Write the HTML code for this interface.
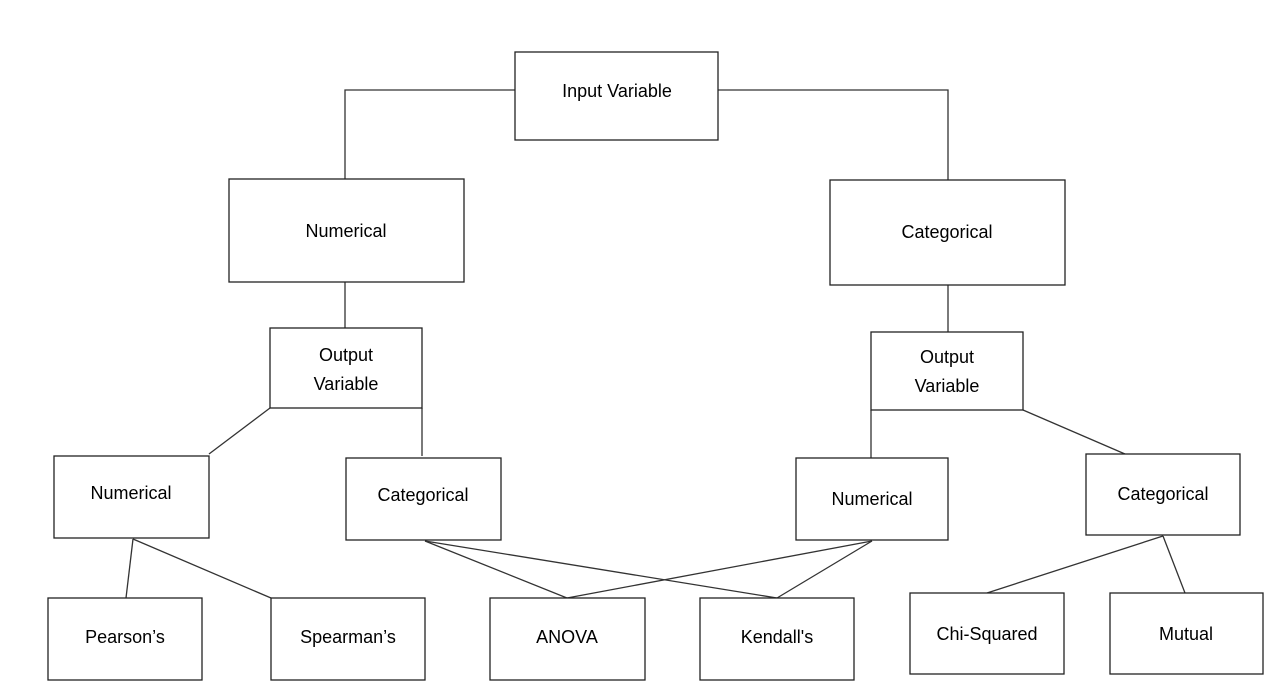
<!DOCTYPE html>
<html><head><meta charset="utf-8"><style>
body{margin:0;background:#fff;width:1272px;height:684px;overflow:hidden}
</style></head><body>
<svg width="1272" height="684" xmlns="http://www.w3.org/2000/svg" font-family="Liberation Sans, sans-serif" font-size="18" fill="#000">
<g stroke="#333" stroke-width="1.3" fill="none">
<polyline points="515,90 345,90 345,179"/>
<polyline points="718,90 948,90 948,180"/>
<line x1="345" y1="282" x2="345" y2="329"/>
<line x1="948" y1="285" x2="948" y2="332"/>
<line x1="270" y1="408" x2="209" y2="454"/>
<line x1="422" y1="408" x2="422" y2="456"/>
<line x1="871" y1="410" x2="871" y2="458"/>
<line x1="1023" y1="410" x2="1125" y2="454"/>
<line x1="133" y1="539" x2="126" y2="598"/>
<line x1="133" y1="539" x2="271" y2="598"/>
<line x1="425" y1="541" x2="567" y2="598"/>
<line x1="425" y1="541" x2="777" y2="598"/>
<line x1="872" y1="541" x2="567" y2="598"/>
<line x1="872" y1="541" x2="777" y2="598"/>
<line x1="1163" y1="536" x2="987" y2="593"/>
<line x1="1163" y1="536" x2="1185" y2="593"/>
</g>
<g stroke="#222" stroke-width="1.3" fill="#fff">
<rect x="515" y="52" width="203" height="88"/>
<rect x="229" y="179" width="235" height="103"/>
<rect x="830" y="180" width="235" height="105"/>
<rect x="270" y="328" width="152" height="80"/>
<rect x="871" y="332" width="152" height="78"/>
<rect x="54" y="456" width="155" height="82"/>
<rect x="346" y="458" width="155" height="82"/>
<rect x="796" y="458" width="152" height="82"/>
<rect x="1086" y="454" width="154" height="81"/>
<rect x="48" y="598" width="154" height="82"/>
<rect x="271" y="598" width="154" height="82"/>
<rect x="490" y="598" width="155" height="82"/>
<rect x="700" y="598" width="154" height="82"/>
<rect x="910" y="593" width="154" height="81"/>
<rect x="1110" y="593" width="153" height="81"/>
</g>
<g text-anchor="middle">
<text x="617" y="97">Input Variable</text>
<text x="346" y="237">Numerical</text>
<text x="947" y="238">Categorical</text>
<text x="346" y="361">Output</text>
<text x="346" y="390">Variable</text>
<text x="947" y="363">Output</text>
<text x="947" y="392">Variable</text>
<text x="131" y="499">Numerical</text>
<text x="423" y="501">Categorical</text>
<text x="872" y="505">Numerical</text>
<text x="1163" y="500">Categorical</text>
<text x="125" y="643">Pearson’s</text>
<text x="348" y="643">Spearman’s</text>
<text x="567" y="643">ANOVA</text>
<text x="777" y="643">Kendall's</text>
<text x="987" y="640">Chi-Squared</text>
<text x="1186" y="640">Mutual</text>
</g>
</svg>
</body></html>
